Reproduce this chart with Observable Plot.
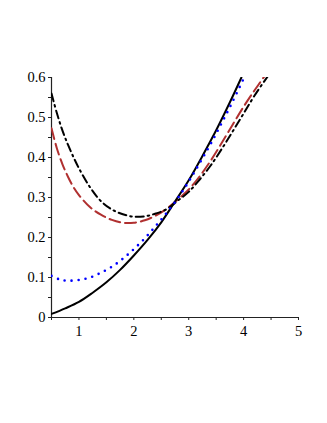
<!DOCTYPE html>
<html>
<head>
<meta charset="utf-8">
<script src="https://cdn.jsdelivr.net/npm/d3@7"></script>
<script src="https://cdn.jsdelivr.net/npm/@observablehq/plot@0.6"></script>
<style>
  html, body { margin: 0; padding: 0; background: white; }
  #chart svg text { font-family: 'Liberation Serif', serif !important; font-size: 14.5px !important; fill: #000 !important; }
</style>
</head>
<body>
<div id="chart"></div>
<script>
// Black solid curve
const solidX = [0.5, 0.75, 1, 1.25, 1.5, 1.75, 2, 2.25, 2.5, 2.75, 3, 3.25, 3.5, 3.75, 3.96];
const solidY = [0.009, 0.023, 0.039, 0.062, 0.088, 0.119, 0.155, 0.194, 0.238, 0.29, 0.343, 0.404, 0.468, 0.538, 0.6];

// Blue dotted curve
const dotX = [0.5, 0.65, 0.8, 1, 1.2, 1.4, 1.6, 1.8, 2, 2.2, 2.4, 2.6, 2.8, 3, 3.2, 3.4, 3.6, 3.8, 4.01];
const dotY = [0.104, 0.095, 0.092, 0.094, 0.1, 0.112, 0.127, 0.147, 0.171, 0.198, 0.229, 0.262, 0.298, 0.34, 0.386, 0.434, 0.486, 0.54, 0.6];

// Brown dashed curve
const dashX = [0.5, 0.6, 0.7, 0.8, 0.9, 1, 1.2, 1.4, 1.6, 1.8, 2, 2.2, 2.4, 2.6, 2.8, 3, 3.2, 3.4, 3.6, 3.8, 4, 4.2, 4.38];
const dashY = [0.473, 0.422, 0.383, 0.352, 0.326, 0.306, 0.276, 0.257, 0.244, 0.237, 0.237, 0.243, 0.255, 0.272, 0.295, 0.32, 0.353, 0.392, 0.436, 0.482, 0.527, 0.568, 0.603];

// Black dash-dot curve
const ddX = [0.5, 0.6, 0.7, 0.8, 0.9, 1, 1.2, 1.4, 1.6, 1.8, 2, 2.2, 2.4, 2.6, 2.8, 3, 3.2, 3.4, 3.6, 3.8, 4, 4.2, 4.46];
const ddY = [0.56, 0.51, 0.467, 0.432, 0.401, 0.373, 0.326, 0.291, 0.27, 0.258, 0.252, 0.253, 0.26, 0.271, 0.292, 0.314, 0.345, 0.38, 0.421, 0.465, 0.51, 0.555, 0.607];

// Ticks
const xMajorTicks = [1, 2, 3, 4, 5];
const xMinorTicks = [0.5, 1.5, 2.5, 3.5, 4.5];
const yMajorTicks = [0, 0.1, 0.2, 0.3, 0.4, 0.5, 0.6];
const yMinorTicks = [0.05, 0.15, 0.25, 0.35, 0.45, 0.55];

const toPts = (xs, ys) => xs.map((x, i) => ({x, y: ys[i]}));

const axisColor = "#222";

const chart = Plot.plot({
  width: 327,
  height: 423,
  marginLeft: 51,
  marginRight: 29,
  marginTop: 77,
  marginBottom: 106,
  x: {domain: [0.5, 5], label: null},
  y: {domain: [0, 0.6], label: null},
  style: {fontFamily: "'Liberation Serif', serif", fontSize: "14.5px", background: "white", color: "#000"},
  marks: [
    Plot.ruleY([0], {stroke: axisColor, strokeWidth: 1.2}),
    Plot.ruleX([0.5], {stroke: axisColor, strokeWidth: 1.2}),
    Plot.axisX({ticks: xMajorTicks, label: null, tickSize: 3, tickPadding: 5, tickFormat: d => String(d), stroke: axisColor, fontSize: 14.5, fill: "black"}),
    Plot.axisX({ticks: xMinorTicks, label: null, tickSize: 3, tickFormat: () => "", stroke: axisColor}),
    Plot.axisY({ticks: yMajorTicks, label: null, tickSize: 3, tickPadding: 3, tickFormat: d => d === 0 ? "0" : d.toFixed(1), stroke: axisColor, fontSize: 14.5, fill: "black"}),
    Plot.axisY({ticks: yMinorTicks, label: null, tickSize: 3, tickFormat: () => "", stroke: axisColor}),
    Plot.line(toPts(dashX, dashY), {x: "x", y: "y", stroke: "#b03030", strokeWidth: 2, strokeDasharray: "11 5", curve: "catmull-rom", clip: true}),
    Plot.line(toPts(ddX, ddY), {x: "x", y: "y", stroke: "black", strokeWidth: 2, strokeDasharray: "8 4 1.6 4", curve: "catmull-rom", clip: true}),
    Plot.line(toPts(solidX, solidY), {x: "x", y: "y", stroke: "black", strokeWidth: 2, curve: "catmull-rom", clip: true}),
    Plot.line(toPts(dotX, dotY), {x: "x", y: "y", stroke: "#0000ff", strokeWidth: 2.6, strokeDasharray: "0 7", strokeLinecap: "round", curve: "catmull-rom", clip: true})
  ]
});
document.getElementById("chart").appendChild(chart);
</script>
</body>
</html>
